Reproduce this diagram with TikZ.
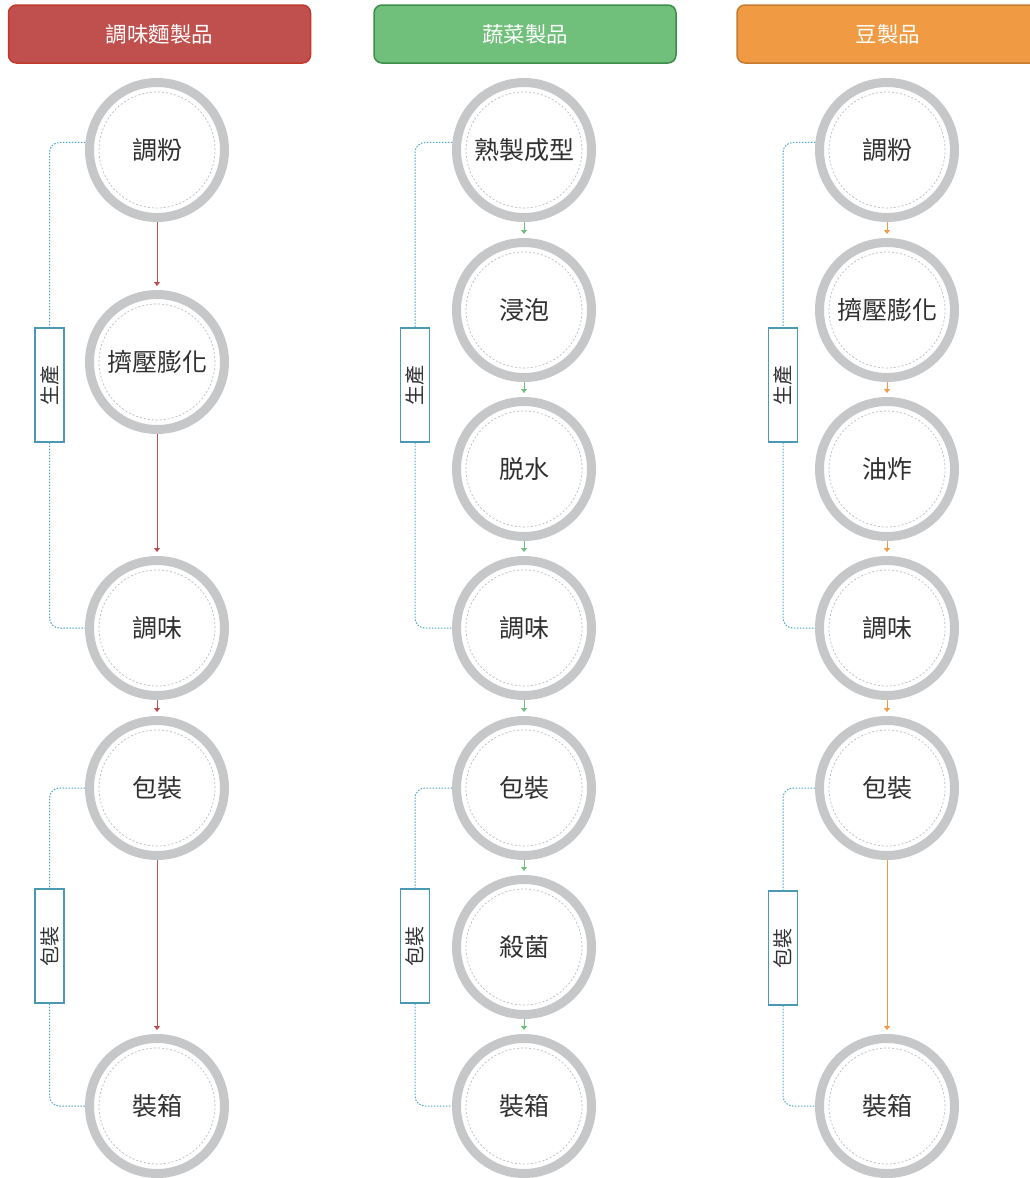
\documentclass[tikz,border=0pt]{standalone}
\usepackage{fontspec}
\setmainfont{Noto Sans CJK TC}
\usetikzlibrary{arrows.meta}

\definecolor{redhead}{HTML}{C0504D}
\definecolor{redline}{HTML}{C0392B}
\definecolor{greenhead}{HTML}{70BF7A}
\definecolor{greenline}{HTML}{3E8E4B}
\definecolor{orangehead}{HTML}{F09A43}
\definecolor{orangeline}{HTML}{C47A30}
\definecolor{ringgray}{HTML}{C6C7C9}
\definecolor{dashgray}{HTML}{BDBDBD}
\definecolor{brackblue}{HTML}{4BA3C8}
\definecolor{boxteal}{HTML}{4A98B2}
\definecolor{textgray}{HTML}{303030}

\tikzset{
  head/.style={rectangle,rounded corners=8pt,line width=1.5pt,minimum width=302pt,minimum height=58pt,
    text=white,font=\fontsize{21.5}{24}\selectfont},
  ring/.style={circle,draw=ringgray,line width=9pt,minimum size=135pt,inner sep=0pt,fill=white,
    text=textgray,font=\fontsize{25}{28}\selectfont,
    path picture={\draw[dashgray,line width=0.7pt,dash pattern=on 2pt off 2pt] (path picture bounding box.center) circle (58pt);}},
  flow/.style={line width=0.9pt,-{Triangle[length=4pt,width=6pt]},shorten >=4pt},
  bracket/.style={brackblue,line width=1pt,dash pattern=on 1.5pt off 1.5pt,rounded corners=10pt},
  stage/.style={rectangle,draw=boxteal,line width=1.1pt,fill=white,rotate=90,minimum width=114pt,
    minimum height=29pt,inner sep=0pt,text=textgray,font=\fontsize{20}{24}\selectfont}
}

\begin{document}
\begin{tikzpicture}[x=1pt,y=-1pt]
\useasboundingbox (0,0) rectangle (1029,1178);

% headers
\node[head,fill=redhead,draw=redline] (ha) at (159.5,34) {調味麵製品};
\node[head,fill=greenhead,draw=greenline] (hb) at (525,34) {蔬菜製品};
\node[head,fill=orangehead,draw=orangeline] (hc) at (888,34) {豆製品};

% stage labels
\node[stage] (pa) at (49.5,385) {生產};
\node[stage] (qa) at (49.5,946) {包裝};
\node[stage] (pb) at (415,385) {生產};
\node[stage] (qb) at (415,946) {包裝};
\node[stage] (pc) at (783,385) {生產};
\node[stage] (qc) at (783,948) {包裝};

% column 1
\node[ring] (a1) at (157,150) {調粉};
\node[ring] (a2) at (157,362) {擠壓膨化};
\node[ring] (a3) at (157,628) {調味};
\node[ring] (a4) at (157,788) {包裝};
\node[ring] (a5) at (157,1106) {裝箱};

% column 2
\node[ring] (b1) at (524,150) {熟製成型};
\node[ring] (b2) at (524,310) {浸泡};
\node[ring] (b3) at (524,469) {脱水};
\node[ring] (b4) at (524,628) {調味};
\node[ring] (b5) at (524,788) {包裝};
\node[ring] (b6) at (524,947) {殺菌};
\node[ring] (b7) at (524,1106) {裝箱};

% column 3
\node[ring] (c1) at (887,150) {調粉};
\node[ring] (c2) at (887,310) {擠壓膨化};
\node[ring] (c3) at (887,469) {油炸};
\node[ring] (c4) at (887,628) {調味};
\node[ring] (c5) at (887,788) {包裝};
\node[ring] (c6) at (887,1106) {裝箱};

% brackets
\draw[bracket] (a1.174) -| (pa.east);
\draw[bracket] (pa.west) |- (a3.west);
\draw[bracket] (a4.west) -| (qa.east);
\draw[bracket] (qa.west) |- (a5.west);
\draw[bracket] (b1.174) -| (pb.east);
\draw[bracket] (pb.west) |- (b4.west);
\draw[bracket] (b5.west) -| (qb.east);
\draw[bracket] (qb.west) |- (b7.west);
\draw[bracket] (c1.174) -| (pc.east);
\draw[bracket] (pc.west) |- (c4.west);
\draw[bracket] (c5.west) -| (qc.east);
\draw[bracket] (qc.west) |- (c6.west);

% flows
\draw[flow,redhead] (a1) -- (a2);
\draw[flow,redhead] (a2) -- (a3);
\draw[flow,redhead] (a3) -- (a4);
\draw[flow,redhead] (a4) -- (a5);
\draw[flow,greenhead] (b1) -- (b2);
\draw[flow,greenhead] (b2) -- (b3);
\draw[flow,greenhead] (b3) -- (b4);
\draw[flow,greenhead] (b4) -- (b5);
\draw[flow,greenhead] (b5) -- (b6);
\draw[flow,greenhead] (b6) -- (b7);
\draw[flow,orangehead] (c1) -- (c2);
\draw[flow,orangehead] (c2) -- (c3);
\draw[flow,orangehead] (c3) -- (c4);
\draw[flow,orangehead] (c4) -- (c5);
\draw[flow,orangehead] (c5) -- (c6);

\end{tikzpicture}
\end{document}
